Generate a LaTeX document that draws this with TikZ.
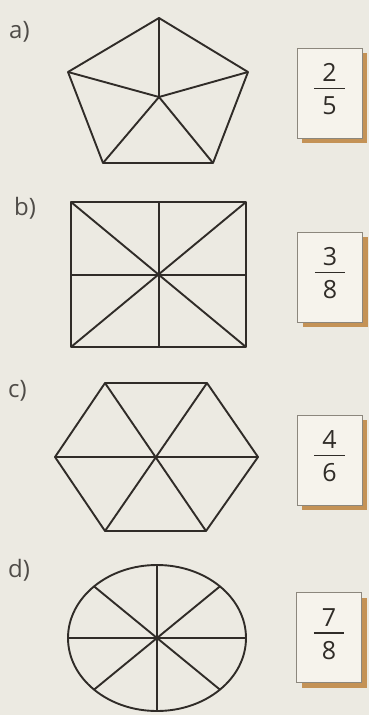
\documentclass[tikz,border=0pt]{standalone}
\usepackage{fontspec}
\setmainfont{Open Sans}
\usepackage{xcolor}
\usepackage{tikz}
\usetikzlibrary{shadows}

\definecolor{paper}{RGB}{236,234,226}
\definecolor{ink}{RGB}{48,44,40}
\definecolor{cardfill}{RGB}{246,243,236}
\definecolor{cardedge}{RGB}{140,135,125}
\definecolor{cardshadow}{RGB}{196,146,86}

% stacked fraction for the answer cards
\newcommand{\frc}[2]{\setlength{\arrayrulewidth}{1.5pt}%
  \begin{tabular}{@{\hspace{8pt}}c@{\hspace{8pt}}}#1\\[-1.5pt]\hline\noalign{\vskip 7.5pt}#2\end{tabular}}

\begin{document}
\begin{tikzpicture}[
  x=1pt, y=-1pt,
  figline/.style={draw=ink, line width=1.9pt, line join=round},
  tag/.style={anchor=base west, inner sep=0pt, text=ink!85, font=\fontsize{24}{24}\selectfont},
  card/.style={rectangle, draw=cardedge, line width=0.8pt, fill=cardfill, minimum width=65pt, minimum height=90pt, inner sep=0pt, text=ink, font=\fontsize{25}{25}\selectfont,
    drop shadow={shadow xshift=5pt, shadow yshift=-5pt, fill=cardshadow, opacity=1}}
]
\fill[paper] (0,0) rectangle (369,715);
\useasboundingbox (0,0) rectangle (369,715);

% a) pentagon
\node[tag] (la) at (9,38) {a)};
\coordinate (pt) at (159,18);
\coordinate (pr) at (248,72);
\coordinate (pbr) at (213,163);
\coordinate (pbl) at (103,163);
\coordinate (pl) at (68,72);
\coordinate (pc) at (159,97);
\draw[figline] (pt) -- (pr) -- (pbr) -- (pbl) -- (pl) -- cycle;
\foreach \v in {pt,pr,pbr,pbl,pl}
  \draw[figline] (pc) -- (\v);
\node[card] (ca) at (329.5,93) {\frc{2}{5}};

% b) rectangle
\node[tag] (lb) at (14,215) {b)};
\coordinate (sa) at (71,202);
\coordinate (sb) at (246,347);
\coordinate (sc) at (159,275);
\draw[figline] (sa) rectangle (sb);
\draw[figline] (sa) -- (sb);
\draw[figline] (sa |- sb) -- (sb |- sa);
\draw[figline] (sc |- sa) -- (sc |- sb);
\draw[figline] (sa |- sc) -- (sb |- sc);
\node[card] (cb) at (330,277) {\frc{3}{8}};

% c) hexagon
\node[tag] (lc) at (8,397) {c)};
\coordinate (h1) at (105,383);
\coordinate (h2) at (207,383);
\coordinate (h3) at (258,457);
\coordinate (h4) at (206,531);
\coordinate (h5) at (105,531);
\coordinate (h6) at (55,457);
\draw[figline] (h1) -- (h2) -- (h3) -- (h4) -- (h5) -- (h6) -- cycle;
\draw[figline] (h1) -- (h4);
\draw[figline] (h2) -- (h5);
\draw[figline] (h6) -- (h3);
\node[card] (cc) at (329.5,460) {\frc{4}{6}};

% d) ellipse
\node[tag] (ld) at (8,577) {d)};
\coordinate (ec) at (157,638);
\draw[figline] (ec) ellipse [x radius=89pt, y radius=73pt];
\foreach \a in {0,45,...,315}
  \draw[figline] (ec) -- ++(\a:89 and 73);
\node[card] (cd) at (329,637.5) {\frc{7}{8}};
\end{tikzpicture}
\end{document}
